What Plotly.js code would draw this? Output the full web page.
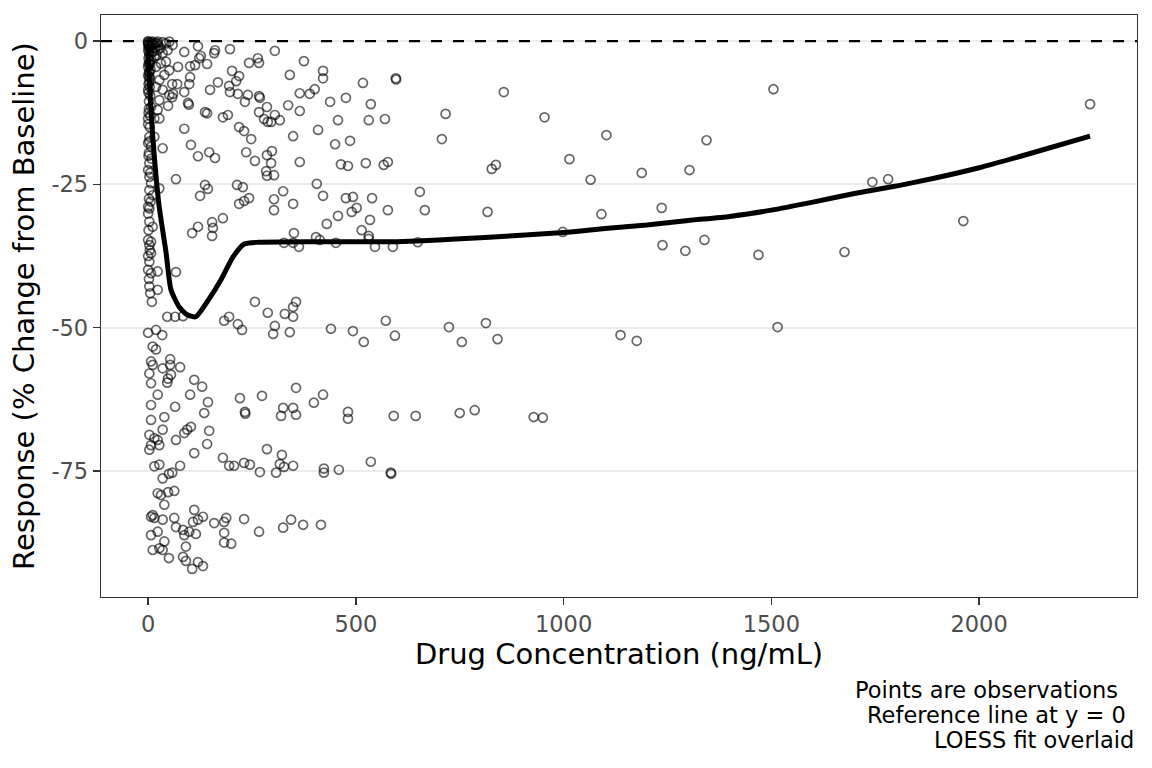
<!DOCTYPE html>
<html>
<head>
<meta charset="utf-8">
<script src="https://cdn.plot.ly/plotly-3.0.1.min.js"></script>
<style>
  html, body { margin: 0; padding: 0; background: #ffffff; }
  #chart { width: 1152px; height: 768px; }
</style>
</head>
<body>
<div id="chart"></div>
<script>
// observations near zero concentration (dense column)
var obsColumn = [
  [0,-0.3],[11,-0.1],[23,-0.1],[35,-0.2],[43,-0.4],[51,-0.1],[59,-0.7],[47,-1.6],[35,-2.1],[23,-1.6],
  [15,-2.7],[3,-3.9],[3,-5.3],[19,-4.5],[31,-3.9],[43,-3.6],[51,-5.1],[39,-5.9],[27,-6.8],[3,-7.1],
  [19,-8.0],[35,-8.5],[51,-9.4],[27,-10.3],[7,-11.5],[23,-12.0],[15,-13.5],[0,-13.5],[27,-13.5],[3,-16.7],
  [15,-16.7],[0,-17.8],[7,-18.4],[35,-18.7],[3,-21.3],[0,-22.5],[3,-23.7],[7,-24.8],[3,-26.0],[11,-26.9],
  [27,-25.7],[0,-28.9],
  [0,0],[1,-0.5],[2,-1],[0,-1.5],[3,-2.5],[1,-3],[0,-4.5],[2,-5.5],[4,-6.5],[1,-7.5],[0,-8.5],[5,-9.5],
  [2,-10.5],[6,-1],[8,-3.2],[10,-0.5],[12,-1.8],[5,-4],[18,-0.3],[25,-0.8],[30,-1.2],[20,-2.5],[1,-12.5],
  [4,-15],[2,-19.5],[8,-20.5],
  [0,-0.2],[1,-0.8],[3,-1.2],[2,-2],[4,-3.5],[1,-4],[6,-5],[0,-6],[3,-6.2],[1,-9],[4,-8],[2,-11.8],
  [0,-14.5],[5,-13],[3,-17.5],[1,-20],[5,-23],[2,-27.5],[6,-28],[1,-33],[4,-36.5],[0,-37.5],[2,-41.5],
  [5,-44],[9,-45.5],[14,-0.6],[16,-1.2],[9,-2],[7,-0.2],[22,-0.4],
  [3,-29.2],[0,-30.1],[3,-31.5],[11,-32.4],[0,-34.7],[7,-35.0],[3,-35.6],[7,-37.0],[3,-38.5],[0,-39.9],
  [7,-40.5],[23,-40.2],[3,-42.8],[23,-43.4],[0,-50.9],[19,-50.4],[34,-51.3],[11,-53.3],[19,-53.8],[7,-55.9],
  [11,-56.5],[35,-57.1],[3,-58.0],
  [7,-59.7],[23,-61.7],[7,-63.5],[39,-65.6],[7,-66.1],[3,-68.7],[15,-69.3],[23,-69.6],[7,-70.5],[3,-71.3],
  [27,-70.5],[35,-67.8],[15,-74.2],[27,-73.9],[35,-76.3],[23,-78.9],[31,-79.2],[39,-80.9],[11,-82.7],[7,-83.0],
  [15,-83.2],[35,-83.5],[7,-86.2],[23,-85.6],[11,-88.8],[27,-88.5],[35,-88.8],[39,-87.3]
];

// observations roughly 50 - 320 ng/mL
var obsLow = [
  [120,-0.9],[161,-1.6],[197,-1.4],[305,-1.7],[87,-1.9],[72,-4.5],[101,-4.4],[113,-4.2],[127,-2.6],[123,-3.0],
  [142,-4.0],[159,-2.1],[243,-3.8],[264,-3.0],[267,-3.8],[202,-5.2],[219,-6.1],[212,-7.0],[168,-7.2],[101,-6.3],
  [99,-7.5],[70,-7.5],[58,-7.5],[149,-8.5],[195,-7.8],[197,-8.9],[216,-9.2],[240,-9.4],[267,-9.6],[269,-9.9],
  [233,-10.6],[286,-11.5],[267,-12.4],[60,-9.2],[58,-9.8],[87,-8.9],[96,-10.8],[98,-11.1],[48,-11.3],[137,-12.4],
  [142,-12.6],[180,-13.3],[192,-12.9],[279,-13.6],[288,-14.1],[305,-12.9],[317,-13.8],[296,-14.1],[87,-15.3],[219,-15.0],
  [231,-15.7],[248,-17.1],[103,-18.1],[120,-20.1],[147,-19.4],[161,-20.4],[236,-19.4],[257,-20.9],[286,-19.9],[298,-19.2],
  [296,-21.3],[284,-22.7],[286,-23.5],[303,-23.4],[67,-24.1],[137,-25.1],[144,-25.8],[125,-27.0],[214,-25.1],[228,-25.5],
  [219,-28.4],[231,-27.9],[243,-27.4],[303,-27.6],[303,-29.5],[180,-30.9],[154,-31.6],[120,-32.4],[106,-33.5],[156,-32.6],
  [154,-34.0],[67,-40.3],
  [46,-48.1],[65,-48.1],[84,-48.0],[183,-48.8],[195,-48.1],[216,-49.4],[226,-50.4],[257,-45.5],[288,-47.4],[305,-49.7],
  [301,-51.1],[53,-55.5],[53,-56.5],[77,-56.9],[55,-58.2],[48,-58.9],[46,-59.6],[111,-59.1],[130,-60.3],[101,-61.7],
  [144,-63.0],[135,-64.9],[65,-63.8],[221,-62.3],[274,-61.9],[233,-64.7],[234,-65.0],[67,-69.6],[87,-68.4],[94,-67.8],
  [103,-67.3],[147,-68.0],[142,-70.3],[111,-71.9],[286,-71.2],[180,-72.7],[195,-74.1],[207,-74.1],[231,-73.6],[245,-73.9],
  [269,-75.2],[308,-75.3],[317,-73.8],[50,-75.5],[58,-75.3],[77,-74.1],[63,-78.5],[48,-78.7],[63,-83.2],[67,-84.8],
  [84,-85.3],[87,-86.2],[99,-85.6],[115,-86.0],[108,-83.9],[120,-83.5],[111,-81.8],[132,-83.0],[159,-84.1],[183,-83.9],
  [188,-83.2],[231,-83.4],[183,-85.8],[183,-87.5],[200,-87.7],[267,-85.6],[50,-90.2],[91,-88.2],[84,-90.0],[91,-90.7],
  [106,-92.1],[120,-90.9],[132,-91.6]
];

// observations roughly 320 - 1000 ng/mL
var obsMid = [
  [375,-3.5],[341,-5.9],[421,-5.2],[421,-6.5],[517,-7.3],[596,-6.5],[597,-6.7],[365,-9.1],[389,-9.2],[401,-8.4],
  [438,-10.6],[476,-9.9],[536,-11.0],[337,-11.2],[365,-12.2],[457,-13.8],[531,-13.8],[570,-13.6],[716,-12.7],[856,-8.9],
  [954,-13.3],[349,-16.6],[409,-15.5],[450,-18.0],[486,-17.4],[707,-17.1],[365,-21.1],[464,-21.5],[481,-21.8],[524,-21.3],
  [567,-21.6],[577,-21.1],[827,-22.3],[837,-21.6],[1014,-20.6],[325,-26.2],[406,-24.9],[349,-28.4],[421,-27.0],[476,-27.4],
  [493,-27.2],[539,-27.4],[654,-26.3],[666,-29.5],[577,-29.5],[502,-29.1],[490,-29.8],[457,-30.5],[430,-31.9],[534,-31.2],
  [514,-33.0],[531,-34.0],[817,-29.8],[351,-33.5],[404,-34.2],[413,-34.7],[327,-35.2],[349,-35.2],[363,-35.9],[452,-35.2],
  [531,-34.5],[546,-35.9],[589,-35.9],[649,-35.1],[998,-33.3],
  [356,-45.5],[349,-46.4],[329,-47.6],[349,-48.1],[341,-50.8],[440,-50.2],[493,-50.6],[519,-52.5],[572,-48.8],[594,-51.4],
  [724,-49.9],[755,-52.5],[813,-49.2],[841,-52.0],[356,-60.5],[421,-61.7],[399,-63.1],[325,-64.0],[349,-64.0],[320,-65.4],
  [356,-65.2],[481,-64.7],[481,-65.9],[591,-65.4],[644,-65.4],[750,-64.9],[786,-64.4],[928,-65.6],[950,-65.7],[322,-72.2],
  [327,-74.3],[349,-74.1],[423,-74.6],[423,-75.3],[459,-74.8],[536,-73.4],[584,-75.3],[585,-75.5],[325,-84.9],[344,-83.5],
  [373,-84.4],[416,-84.4]
];

// observations above 1000 ng/mL
var obsHigh = [
  [1065,-24.2],[1103,-16.4],[1091,-30.2],[1137,-51.3],[1176,-52.3],[1188,-23.0],[1236,-29.1],[1238,-35.6],[1293,-36.6],
  [1303,-22.5],[1339,-34.7],[1344,-17.3],[1469,-37.3],[1505,-8.4],[1515,-49.9],[1676,-36.8],[1743,-24.6],[1781,-24.1],
  [1962,-31.4],[2267,-11.0]
];

// LOESS fit
var loessConc = [0, 3, 10, 26, 43, 55, 75, 95, 115, 144, 175, 204, 231, 267, 400, 600, 800, 1000, 1100, 1200, 1300, 1400, 1500, 1600, 1700, 1800, 1900, 2000, 2100, 2267];
var loessResp = [-0.5, -7, -15.5, -28.5, -36.8, -43.4, -46.4, -47.8, -48.1, -45.3, -41.7, -37.7, -35.4, -35.1, -35.0, -35.0, -34.3, -33.4, -32.7, -32.1, -31.3, -30.6, -29.5, -28.1, -26.6, -25.3, -23.8, -22.1, -20.1, -16.6];

var refLine = 0;
var xRange = [-113.4, 2380];
var yRange = [-97, 4.55];
var xTicks = [0, 500, 1000, 1500, 2000];
var yTicks = [0, -25, -50, -75];
var captions = ['Points are observations', 'Reference line at y = 0', 'LOESS fit overlaid'];

function plot_exposure_response(element) {
    var obs = obsColumn.concat(obsLow, obsMid, obsHigh);
    var ref = {
        x: xRange,
        y: xRange.map(function () { return refLine; }),
        type: 'scatter',
        mode: 'lines',
        line: { color: '#000000', width: 2.3, dash: '11px,11px' },
        hoverinfo: 'skip'
    };
    var points = {
        x: obs.map(function (p) { return p[0]; }),
        y: obs.map(function (p) { return p[1]; }),
        type: 'scatter',
        mode: 'markers',
        marker: {
            symbol: 'circle-open',
            size: 9,
            color: 'rgba(0,0,0,0.6)',
            line: { width: 1.7, color: 'rgba(0,0,0,0.6)' }
        },
        hoverinfo: 'skip'
    };
    var fit = {
        x: loessConc,
        y: loessResp,
        type: 'scatter',
        mode: 'lines',
        line: { color: '#000000', width: 5, shape: 'spline', smoothing: 0.6 },
        hoverinfo: 'skip'
    };

    var shifts = [-16, -8, 0];
    var annotations = captions.map(function (c, i) {
        return {
            text: c,
            xref: 'paper', yref: 'paper',
            x: 1, y: 0,
            xanchor: 'right', yanchor: 'middle',
            xshift: shifts[i] - 1,
            yshift: -93 - 25 * i,
            showarrow: false,
            font: { size: 22.5, color: '#000000' }
        };
    });

    var layout = {
        width: 1152,
        height: 768,
        margin: { l: 101, r: 15, t: 15, b: 171, pad: 0 },
        paper_bgcolor: '#ffffff',
        plot_bgcolor: '#ffffff',
        font: { family: 'DejaVu Sans, sans-serif', color: '#000000' },
        showlegend: false,
        xaxis: {
            range: xRange,
            tickvals: xTicks,
            ticktext: xTicks.map(String),
            ticks: 'outside', ticklen: 7, tickwidth: 1.3, tickcolor: '#333333',
            tickfont: { size: 22.5, color: '#4D4D4D' },
            showgrid: false, zeroline: false,
            showline: true, mirror: true, linecolor: '#333333', linewidth: 1.3,
            title: { text: 'Drug Concentration (ng/mL)', font: { size: 29, color: '#000000' }, standoff: 4 }
        },
        yaxis: {
            range: yRange,
            tickvals: yTicks,
            ticktext: yTicks.map(String),
            ticks: 'outside', ticklen: 7, tickwidth: 1.3, tickcolor: '#333333',
            tickfont: { size: 22.5, color: '#4D4D4D' },
            showgrid: true, gridcolor: '#EBEBEB', gridwidth: 1.8, zeroline: false,
            showline: true, mirror: true, linecolor: '#333333', linewidth: 1.3,
            title: { text: 'Response (% Change from Baseline)', font: { size: 29, color: '#000000' }, standoff: 8 }
        },
        annotations: annotations
    };
    Plotly.newPlot(element, [ref, points, fit], layout, { staticPlot: true, displayModeBar: false });
}

plot_exposure_response(document.getElementById('chart'));
</script>
</body>
</html>
